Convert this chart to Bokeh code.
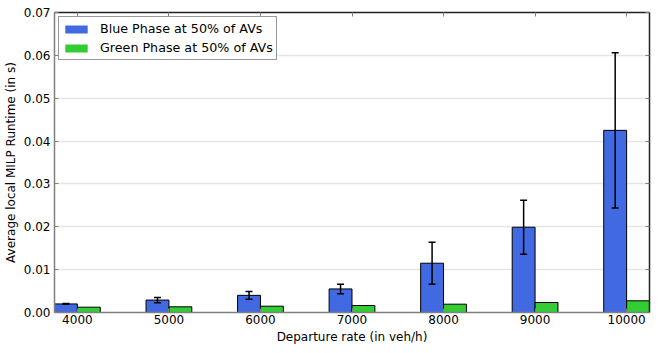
from bokeh.plotting import figure
from bokeh.models import (ColumnDataSource, Range1d, FixedTicker, LinearAxis, Whisker,
                          TeeHead, Legend, LegendItem, NumeralTickFormatter,
                          CustomLabelingPolicy)
from bokeh.transform import dodge
from bokeh.embed import file_html
from bokeh.resources import INLINE

# ---- data ----
rates = [4000, 5000, 6000, 7000, 8000, 9000, 10000]
rate_labels = ["4000", "5000", "6000", "7000", "8000", "9000", "10000"]
blue_mean = [0.0020, 0.0029, 0.0040, 0.0055, 0.0115, 0.0199, 0.0425]
blue_err = [0.0001, 0.0006, 0.0009, 0.0011, 0.0049, 0.0063, 0.0181]
green_mean = [0.00124, 0.00133, 0.00147, 0.00163, 0.00194, 0.00233, 0.00273]
y_ticks = [0.0, 0.01, 0.02, 0.03, 0.04, 0.05, 0.06, 0.07]
series_names = ["Blue Phase at 50% of AVs", "Green Phase at 50% of AVs"]

BAR_W = 250
FONT = "DejaVu Sans"

src = ColumnDataSource(dict(
    rates=rates,
    blue=blue_mean,
    green=green_mean,
    upper=[m + e for m, e in zip(blue_mean, blue_err)],
    lower=[m - e for m, e in zip(blue_mean, blue_err)],
))

p = figure(width=656, height=352, output_backend="svg", toolbar_location=None,
           x_range=Range1d(rates[0] - BAR_W, rates[-1] + BAR_W),
           y_range=Range1d(y_ticks[0], y_ticks[-1]),
           min_border_left=47, min_border_right=7, min_border_top=12, min_border_bottom=40)
p.outline_line_color = None
p.background_fill_color = "white"
p.border_fill_color = "white"

p.vbar(x=dodge("rates", -BAR_W / 2), top="blue", width=BAR_W, bottom=0, source=src,
       fill_color="#4169E1", line_color="black", line_width=1)
p.vbar(x=dodge("rates", BAR_W / 2), top="green", width=BAR_W, bottom=0, source=src,
       fill_color="#32CD32", line_color="black", line_width=1)

wh = Whisker(base=dodge("rates", -BAR_W / 2), upper="upper", lower="lower", source=src,
             line_color="black", line_width=1.5, level="annotation",
             upper_head=TeeHead(size=7, line_color="black", line_width=1.5),
             lower_head=TeeHead(size=7, line_color="black", line_width=1.5))
p.add_layout(wh)

# legend-only renderers (zero width, so nothing shows in the plot; no outline in legend)
lb = p.vbar(x="rates", top="blue", width=0, source=src, fill_color="#4169E1", line_color=None)
lg = p.vbar(x="rates", top="green", width=0, source=src, fill_color="#32CD32", line_color=None)
legend = Legend(items=[LegendItem(label=series_names[0], renderers=[lb]),
                       LegendItem(label=series_names[1], renderers=[lg])],
                location="top_left", margin=4, padding=3, spacing=2,
                glyph_width=28, glyph_height=10, label_height=17, label_standoff=10,
                label_text_font=FONT, label_text_font_size="12.7px",
                label_text_color="black",
                border_line_color="#333333", border_line_width=1,
                background_fill_alpha=1)
p.add_layout(legend)

# axes
xa = p.xaxis[0]
xa.ticker = FixedTicker(ticks=rates)
xa.major_label_overrides = {r: l for r, l in zip(rates, rate_labels)}
ya = p.yaxis[0]
ya.ticker = FixedTicker(ticks=y_ticks)
ya.formatter = NumeralTickFormatter(format="0.00")

for ax in (xa, ya):
    ax.axis_line_color = "#808080"
    ax.axis_line_width = 1.5
    ax.major_tick_in = 4
    ax.major_tick_out = 0
    ax.major_tick_line_color = "#808080"
    ax.minor_tick_line_color = None
    ax.major_label_text_font = FONT
    ax.major_label_text_font_size = "12px"
    ax.major_label_text_color = "black"
    ax.axis_label_text_font = FONT
    ax.axis_label_text_font_size = "12px"
    ax.axis_label_text_font_style = "normal"
    ax.axis_label_text_color = "black"

xa.axis_label = "Departure rate (in veh/h)"
xa.major_label_standoff = 2
xa.axis_label_standoff = 3
ya.axis_label = "Average local MILP Runtime (in s)"
ya.major_label_standoff = 4
ya.axis_label_standoff = 3

no_labels = "const a = [...indices]; for (const i of a) indices.unset(i); return indices"
top_ax = LinearAxis(ticker=FixedTicker(ticks=rates),
                    major_label_policy=CustomLabelingPolicy(code=no_labels),
                    major_label_text_font_size="1px",
                    major_label_standoff=0, axis_line_color="#222222", axis_line_width=1.5,
                    major_tick_in=4, major_tick_out=0, major_tick_line_color="#808080",
                    minor_tick_line_color=None)
right_ax = LinearAxis(ticker=FixedTicker(ticks=y_ticks),
                      major_label_policy=CustomLabelingPolicy(code=no_labels),
                      major_label_text_font_size="1px",
                      major_label_standoff=0, axis_line_color="#222222", axis_line_width=1.5,
                      major_tick_in=4, major_tick_out=0, major_tick_line_color="#808080",
                      minor_tick_line_color=None)
p.add_layout(top_ax, "above")
p.add_layout(right_ax, "right")

p.xgrid.grid_line_color = None
p.ygrid.grid_line_color = "#e6e6e6"
p.ygrid.grid_line_width = 1.5
p.ygrid.ticker = FixedTicker(ticks=y_ticks)

open("out.html", "w").write(file_html(p, INLINE))
